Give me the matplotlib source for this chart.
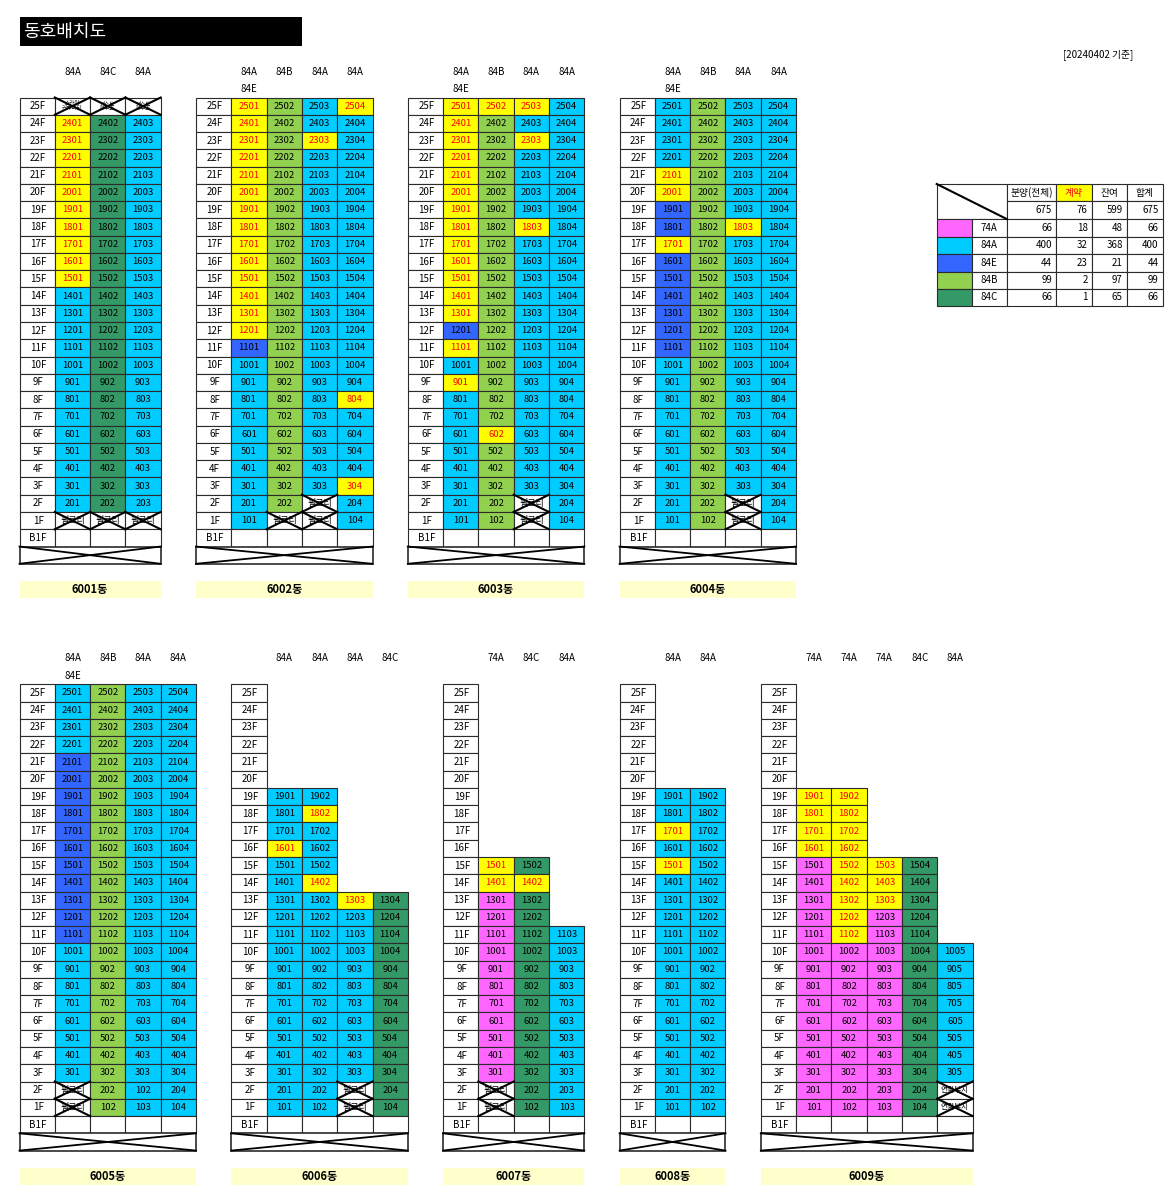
import matplotlib.pyplot as plt
from matplotlib.patches import Rectangle

plt.rcParams['font.family'] = ['Noto Sans CJK KR', 'DejaVu Sans']

# ---- data -------------------------------------------------------------
type_colors = {'74A': '#FF66FF', '84A': '#00CCFF', '84E': '#3366FF',
               '84B': '#92D050', '84C': '#339966'}
sold_color = '#FFFF00'

e_floors = [21, 20, 19, 18, 17, 16, 15, 14, 13, 12, 11]   # 84E floors, column 1

b6001_types = ['84A', '84C', '84A']
b6001_tops = [25, 25, 25]
b6001_sold = [2401, 2301, 2201, 2101, 2001, 1901, 1801, 1701, 1601, 1501]
b6001_blocked = {(25, 0): '스카이\n커뮤니티', (25, 1): '게스트\n하우스', (25, 2): '게스트\n하우스',
                 (1, 0): '필로티', (1, 1): '필로티', (1, 2): '필로티'}

b6002_types = ['84A', '84B', '84A', '84A']
b6002_tops = [25, 25, 25, 25]
b6002_sold = [2501, 2504, 2401, 2301, 2303, 2201, 2101, 2001, 1901, 1801, 1701,
              1601, 1501, 1401, 1301, 1201, 804, 304]
b6002_blocked = {(2, 2): '필로티', (1, 1): '필로티', (1, 2): '필로티'}

b6003_types = ['84A', '84B', '84A', '84A']
b6003_tops = [25, 25, 25, 25]
b6003_sold = [2501, 2502, 2503, 2401, 2301, 2303, 2201, 2101, 2001, 1901, 1801,
              1803, 1701, 1601, 1501, 1401, 1301, 1101, 901, 602]
b6003_blocked = {(2, 2): '필로티', (1, 2): '필로티'}

b6004_types = ['84A', '84B', '84A', '84A']
b6004_tops = [25, 25, 25, 25]
b6004_sold = [2101, 2001, 1803, 1701]
b6004_blocked = {(2, 2): '필로티', (1, 2): '필로티'}

b6005_types = ['84A', '84B', '84A', '84A']
b6005_tops = [25, 25, 25, 25]
b6005_sold = []
b6005_blocked = {(2, 0): '필로티', (1, 0): '필로티'}

b6006_types = ['84A', '84A', '84A', '84C']
b6006_tops = [19, 19, 13, 13]
b6006_sold = [1802, 1601, 1402, 1303]
b6006_blocked = {(2, 2): '필로티', (1, 2): '필로티'}

b6007_types = ['74A', '84C', '84A']
b6007_tops = [15, 15, 11]
b6007_sold = [1501, 1401, 1402]
b6007_blocked = {(2, 0): '필로티', (1, 0): '필로티'}

b6008_types = ['84A', '84A']
b6008_tops = [19, 19]
b6008_sold = [1701, 1501]
b6008_blocked = {}

b6009_types = ['74A', '74A', '74A', '84C', '84A']
b6009_tops = [19, 19, 15, 15, 10]
b6009_sold = [1901, 1902, 1801, 1802, 1701, 1702, 1601, 1602, 1502, 1503,
              1402, 1403, 1302, 1303, 1202, 1102]
b6009_blocked = {(2, 4): '연결부지', (1, 4): '연결부지'}

label_override = {('6005', 2, 2): '102'}

legend_types = ['74A', '84A', '84E', '84B', '84C']
legend_total = [66, 400, 44, 99, 66]
legend_sold = [18, 32, 23, 2, 1]
legend_left = [48, 368, 21, 97, 65]
legend_sum = [66, 400, 44, 99, 66]
legend_all = [675, 76, 599, 675]

buildings = [
    ('6001', b6001_types, b6001_tops, b6001_sold, b6001_blocked, False, 0, 0),
    ('6002', b6002_types, b6002_tops, b6002_sold, b6002_blocked, True, 5, 0),
    ('6003', b6003_types, b6003_tops, b6003_sold, b6003_blocked, True, 11, 0),
    ('6004', b6004_types, b6004_tops, b6004_sold, b6004_blocked, True, 17, 0),
    ('6005', b6005_types, b6005_tops, b6005_sold, b6005_blocked, True, 0, 1),
    ('6006', b6006_types, b6006_tops, b6006_sold, b6006_blocked, False, 6, 1),
    ('6007', b6007_types, b6007_tops, b6007_sold, b6007_blocked, False, 12, 1),
    ('6008', b6008_types, b6008_tops, b6008_sold, b6008_blocked, False, 17, 1),
    ('6009', b6009_types, b6009_tops, b6009_sold, b6009_blocked, False, 21, 1),
]

# ---- layout -----------------------------------------------------------
X0 = 19.5
W = 35.3
H = 17.27
ROW_TOP = [97.5, 684.3]
EDGE = '#2b2b2b'

fig = plt.figure(figsize=(11.76, 11.96), dpi=100)
ax = fig.add_axes([0, 0, 1, 1])
ax.set_xlim(0, 1176)
ax.set_ylim(1196, 0)
ax.axis('off')


def box(x, y, w, h, fc, lw=0.8):
    ax.add_patch(Rectangle((x, y), w, h, facecolor=fc, edgecolor=EDGE, linewidth=lw))


def cross(x, y, w, h, lw=1.5):
    ax.plot([x, x + w], [y, y + h], color='black', lw=lw)
    ax.plot([x, x + w], [y + h, y], color='black', lw=lw)


for name, types, tops, sold, blocked, has_e, gx, row in buildings:
    x0 = X0 + gx * W
    yt = ROW_TOP[row]
    n = len(types)

    # type headers
    for c, t in enumerate(types):
        ax.text(x0 + (c + 1.5) * W, yt - 1.5 * H, t, ha='center', va='center', fontsize=7)
    if has_e:
        ax.text(x0 + 1.5 * W, yt - 0.5 * H, '84E', ha='center', va='center', fontsize=7)

    # floor column
    for f in range(25, 0, -1):
        y = yt + (25 - f) * H
        box(x0, y, W, H, 'white')
        ax.text(x0 + W / 2 + 1, y + H / 2, f'{f}F', ha='center', va='center', fontsize=7)
    yb = yt + 25 * H
    box(x0, yb, W, H, 'white')
    ax.text(x0 + W / 2 + 1, yb + H / 2, 'B1F', ha='center', va='center', fontsize=7)

    # units
    for c, t in enumerate(types):
        x = x0 + (c + 1) * W
        for f in range(tops[c], 0, -1):
            y = yt + (25 - f) * H
            if (f, c) in blocked:
                box(x, y, W, H, 'white')
                lab = blocked[(f, c)]
                if '\n' in lab:
                    fs = 4
                elif len(lab) > 3:
                    fs = 5.5
                else:
                    fs = 6.5
                ax.text(x + W / 2, y + H / 2, lab, ha='center', va='center',
                        fontsize=fs, linespacing=0.9)
                cross(x, y, W, H)
                continue
            unit = f * 100 + c + 1
            typ = '84E' if (has_e and c == 0 and f in e_floors) else t
            is_sold = unit in sold
            box(x, y, W, H, sold_color if is_sold else type_colors[typ])
            lab = label_override.get((name, f, c), str(unit))
            ax.text(x + W / 2, y + H / 2, lab, ha='center', va='center', fontsize=6.8,
                    color='red' if is_sold else 'black')
        box(x, yb, W, H, 'white')

    # basement cross box
    wall = (n + 1) * W
    box(x0, yb + H, wall, H, 'white', lw=1.2)
    cross(x0, yb + H, wall, H, lw=1.3)

    # building name
    ax.add_patch(Rectangle((x0, yt + 28 * H), wall, H, facecolor='#FFFFCC', edgecolor='none'))
    ax.text(x0 + wall / 2, yt + 28.5 * H, f'{name}동', ha='center', va='center',
            fontsize=8, fontweight='bold')

# ---- title --------------------------------------------------------------
ax.add_patch(Rectangle((19.5, 16.7), 282.5, 29.6, facecolor='black', edgecolor='none'))
ax.text(23, 31.5, '동호배치도', color='white', ha='left', va='center', fontsize=13)
ax.text(1133, 55, '[20240402 기준]', ha='right', va='center', fontsize=7)

# ---- summary table ------------------------------------------------------
cx = [936.7, 971.7, 1006.7, 1056, 1091.7, 1126.7, 1162.7]
ry = [184, 201.3, 219, 236.7, 254, 271.7, 289, 306]

ax.add_patch(Rectangle((cx[0], ry[0]), cx[2] - cx[0], ry[2] - ry[0],
                       facecolor='white', edgecolor=EDGE, lw=0.8))
ax.plot([cx[0], cx[2]], [ry[0], ry[2]], color='black', lw=1.5)
heads = ['분양(전체)', '계약', '잔여', '합계']
for j, hd in enumerate(heads):
    sold_head = hd == '계약'
    box(cx[2 + j], ry[0], cx[3 + j] - cx[2 + j], ry[1] - ry[0],
        sold_color if sold_head else 'white')
    ax.text((cx[2 + j] + cx[3 + j]) / 2, (ry[0] + ry[1]) / 2, hd, ha='center', va='center',
            fontsize=7, color='red' if sold_head else 'black')
for j, v in enumerate(legend_all):
    box(cx[2 + j], ry[1], cx[3 + j] - cx[2 + j], ry[2] - ry[1], 'white')
    ax.text(cx[3 + j] - 4, (ry[1] + ry[2]) / 2, str(v), ha='right', va='center', fontsize=7)

for i, t in enumerate(legend_types):
    y, y2 = ry[2 + i], ry[3 + i]
    box(cx[0], y, cx[1] - cx[0], y2 - y, type_colors[t])
    box(cx[1], y, cx[2] - cx[1], y2 - y, 'white')
    ax.text((cx[1] + cx[2]) / 2, (y + y2) / 2, t, ha='center', va='center', fontsize=7)
    vals = [legend_total[i], legend_sold[i], legend_left[i], legend_sum[i]]
    for j, v in enumerate(vals):
        box(cx[2 + j], y, cx[3 + j] - cx[2 + j], y2 - y, 'white')
        ax.text(cx[3 + j] - 4, (y + y2) / 2, str(v), ha='right', va='center', fontsize=7)

fig.savefig('out.png', dpi=100)
